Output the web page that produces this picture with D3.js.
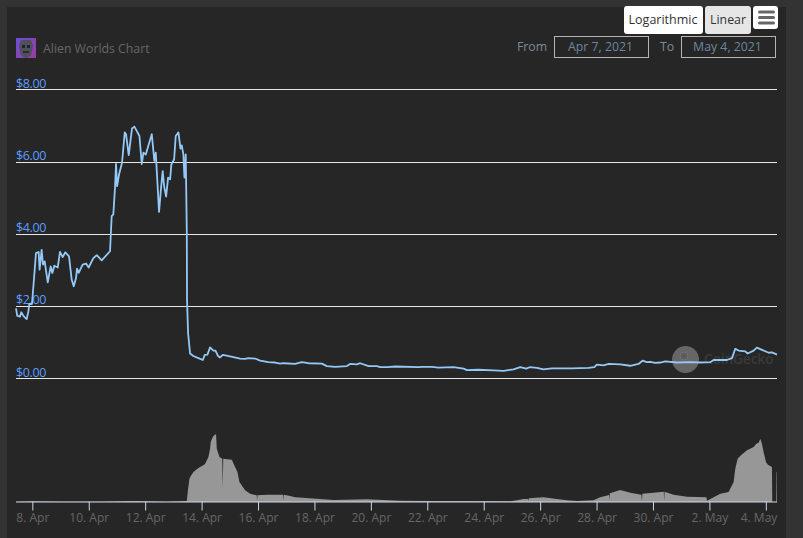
<!DOCTYPE html>
<html><head><meta charset="utf-8">
<script src="https://cdn.jsdelivr.net/npm/d3@7/dist/d3.min.js"></script>
<style>html,body{margin:0;padding:0;background:#333}svg{display:block}text{font-family:"Open Sans",sans-serif}</style>
</head><body><svg id="c" width="803" height="538"></svg>
<script>
const priceHours=[-13.9,-12.8,-10.5,-9.4,-7.1,-4.8,-3.4,-2.6,-0.3,0.9,3.1,5.4,6.2,7.9,9.1,10.5,13.1,15.6,17,18.7,21.6,23.5,25.8,28.1,31.2,33.5,35.2,37.2,38,39.4,42.8,45.7,47.9,51.9,54.8,59,66.1,67.5,68.9,70.4,71.2,72.1,73.8,76.3,78.6,79.7,82,84.8,86.8,88.8,91.1,93.1,94.5,96.5,98.7,101.6,103.8,105,107.8,109.5,110.9,112.1,113.8,115.5,117.2,118.3,120.6,122,124.3,126,127.1,128.5,129.4,130.5,130.8,131.4,131.6,132.5,134.2,137,141.3,145,146.7,149,151.2,154,155.8,158,159.7,162,168.2,176.7,181,183.8,189.5,193.8,200.9,206.5,210.8,213.6,223.6,229.2,234.9,246.3,250.5,257.6,267.6,270.4,276.1,278.9,286,293.1,295.9,301.6,308.7,328.6,331.4,339.9,345.6,358.3,366.9,369.7,379.6,392.4,400.9,409.4,415.1,420.2,423,429.3,434.9,442,459.1,473.2,478.1,480.3,486,490.3,500.1,508.6,515.7,519.1,522.8,525.7,529.9,534.2,538.4,548.4,559.7,568.2,576.7,579.6,590.9,595.2,598,600.8,606.5,608.5,613.6,616.4,620.7,626.4,629.2,633.5];
const prices=[1.94,1.73,1.71,1.83,1.71,1.64,1.85,2.06,2.06,2.55,3.47,3.5,3.01,3.56,3.15,3.24,2.66,3.1,2.92,3.12,3.07,3.5,3.36,3.49,3.38,2.73,2.55,2.78,3.04,2.92,3.15,3.18,3.07,3.33,3.41,3.27,3.52,4.49,4.54,5.32,5.94,5.32,5.65,5.97,6.81,6.76,6.18,6.92,6.97,6.85,6.71,5.93,6.25,6.2,6.44,6.76,6.02,6.25,4.61,5.28,5.74,5.32,5.03,5.56,5.51,5.93,6.06,6.71,6.81,6.36,6.45,6.2,5.56,6.2,5.5,4.03,2.18,1.25,0.69,0.62,0.56,0.51,0.65,0.66,0.86,0.77,0.77,0.62,0.58,0.65,0.61,0.55,0.54,0.56,0.55,0.49,0.45,0.44,0.41,0.42,0.4,0.45,0.42,0.41,0.34,0.32,0.34,0.4,0.39,0.42,0.34,0.34,0.31,0.31,0.33,0.31,0.32,0.32,0.3,0.31,0.27,0.23,0.24,0.22,0.21,0.25,0.31,0.27,0.31,0.29,0.25,0.28,0.28,0.29,0.31,0.38,0.36,0.4,0.39,0.35,0.4,0.49,0.45,0.46,0.43,0.44,0.47,0.44,0.45,0.44,0.45,0.51,0.51,0.56,0.82,0.77,0.75,0.69,0.77,0.85,0.79,0.71,0.72,0.66];
const volumeHours=[-13.9,0.9,29.2,57.6,86,114.3,131.4,132.5,133.1,133.6,134.8,137,141.3,142.7,146.1,147,149.8,151.2,151.8,152.3,154,156.3,156.9,159.2,161.6,162,162.4,169.7,172.5,174.5,176.2,181,185.3,190.9,191.2,191.5,199.4,213.3,213.6,213.9,219.3,223.6,242,256.2,284.5,312.9,341.3,369.6,406.5,412.2,417.9,421.8,422.1,422.4,434.9,446.2,454.7,463.3,477.4,483.1,490.7,491,491.3,500.1,508.7,518.2,518.6,519,537.2,537.5,537.8,545.5,556.9,573.5,573.9,585.3,592.3,596.6,598,600,602.8,608,613.6,615.9,617.9,619.3,620.7,622.1,624.1,625.8,629.2,629.5,632.9,633.2,633.5];
const volumes=[1,2,1,1,3,1,3,40,55,70,78,90,102,105,112,115,135,160,180,185,198,204,160,135,130,40,130,127,105,90,60,35,25,20,3,20,22,22,4,22,18,14,10,6,8,4,3,3,2,5,9,9,3,11,14,9,5,3,5,14,21,6,26,36,28,22,2,25,31,3,31,22,16,14,4,25,30,60,100,130,140,155,165,175,178,190,175,150,120,112,105,0,0,90,90];
const yTicks=[0,2,4,6,8];
const yTickLabels=["$0.00","$2.00","$4.00","$6.00","$8.00"];
const xTickDays=[0,2,4,6,8,10,12,14,16,18,20,22,24,26];
const xTickLabels=["8. Apr","10. Apr","12. Apr","14. Apr","16. Apr","18. Apr","20. Apr","22. Apr","24. Apr","26. Apr","28. Apr","30. Apr","2. May","4. May"];
const title="Alien Worlds Chart", fromDate="Apr 7, 2021", toDate="May 4, 2021";

const origin=Date.UTC(2021,3,8), HOUR=3600e3;
const toDate_=h=>new Date(origin+h*HOUR);
const svg=d3.select("#c");
const x=d3.scaleUtc().domain([toDate_(-13.9),toDate_(633.5)]).range([16,777]);
const y=d3.scaleLinear().domain([0,8]).range([378.4,89.4]);
const yVol=d3.scaleLinear().domain([0,204]).range([502,434]);

svg.append("rect").attr("x",7).attr("y",7).attr("width",779).attr("height",531).attr("fill","#262626");

// watermark
const wm=svg.append("g");
wm.append("circle").attr("cx",685.5).attr("cy",359.5).attr("r",13.5).attr("fill","#666");
wm.append("circle").attr("cx",684).attr("cy",356).attr("r",4).attr("fill","#5c5c5c").attr("stroke","#727272");
wm.append("text").attr("x",704).attr("y",364).attr("font-size",14).attr("letter-spacing",-0.3).attr("font-weight",600).attr("fill","#3a3a3a").text("CoinGecko");

// grid
svg.append("g").selectAll("line").data(yTicks).join("line")
 .attr("x1",16).attr("x2",777).attr("y1",d=>Math.round(y(d))+.5).attr("y2",d=>Math.round(y(d))+.5)
 .attr("stroke","#e6e6e6").attr("stroke-width",1);
svg.append("g").selectAll("text").data(yTicks).join("text")
 .attr("x",16).attr("y",d=>y(d)-1.8).attr("font-size",12.5).attr("letter-spacing",-0.4).attr("fill","#5b9dff")
 .text((d,i)=>yTickLabels[i]);

// volume
svg.append("path").datum(volumes.map((v,i)=>[volumeHours[i],v]))
 .attr("fill","#979797")
 .attr("d",d3.area().x(d=>x(toDate_(d[0]))).y0(yVol(0)).y1(d=>yVol(d[1])));

// x axis
const ax=svg.append("g").attr("transform","translate(0,501.5)")
 .call(d3.axisBottom(x).tickValues(xTickDays.map(d=>toDate_(d*24))).tickSize(9).tickPadding(3)
   .tickFormat((d,i)=>xTickLabels[i]));
ax.select(".domain").attr("stroke","#ccd6eb").attr("d","M16,0.5H777");
ax.selectAll(".tick line").attr("stroke","#ccd6eb");
ax.selectAll(".tick text").attr("fill","#666").attr("font-size",12).attr("font-family",'"Open Sans",sans-serif');
ax.selectAll(".tick:last-of-type text").attr("text-anchor","end").attr("x",11);

// price line
svg.append("path").datum(prices.map((v,i)=>[priceHours[i],v]))
 .attr("fill","none").attr("stroke","#94c9f7").attr("stroke-width",1.8).attr("stroke-linejoin","round")
 .attr("d",d3.line().x(d=>x(toDate_(d[0]))).y(d=>y(d[1])));

// logo
const defs=svg.append("defs");
const g=defs.append("linearGradient").attr("id","lg").attr("x1",0).attr("y1",0).attr("x2",1).attr("y2",1);
g.append("stop").attr("offset",0).attr("stop-color","#6a4fd8");
g.append("stop").attr("offset",1).attr("stop-color","#9a3c9c");
const logo=svg.append("g");
logo.append("rect").attr("x",16).attr("y",38).attr("width",20).attr("height",20).attr("fill","url(#lg)");
logo.append("path").attr("d","M21,40L31,40L33,46L31,55L27,58H25L21,55L19,46Z").attr("fill","#4f4f5e");
logo.append("rect").attr("x",22).attr("y",45).attr("width",3).attr("height",3).attr("fill","#23232b");
logo.append("rect").attr("x",27).attr("y",45).attr("width",3).attr("height",3).attr("fill","#23232b");
logo.append("rect").attr("x",23).attr("y",51).attr("width",6).attr("height",2).attr("fill","#2b2b33");
svg.append("text").attr("x",43).attr("y",52.5).attr("font-size",12.3).attr("fill","#666").text(title);

// buttons
function btn(bx,by,w,h,fill){svg.append("rect").attr("x",bx).attr("y",by).attr("width",w).attr("height",h).attr("rx",3).attr("fill",fill);}
btn(624,6,79,28,"#fff");btn(705,6,46,28,"#e6e6e6");btn(753,6,25,23,"#fff");
svg.append("text").attr("x",663).attr("y",24).attr("text-anchor","middle").attr("font-size",12.5).attr("fill","#333").text("Logarithmic");
svg.append("text").attr("x",728).attr("y",24).attr("text-anchor","middle").attr("font-size",12.3).attr("fill","#333").text("Linear");
[12,17.5,23].forEach(b=>svg.append("rect").attr("x",758).attr("y",b-1.5).attr("width",17).attr("height",3).attr("rx",1.5).attr("fill","#666"));

// range selector
svg.append("text").attr("x",517).attr("y",51).attr("font-size",12.3).attr("fill","#7d8a96").text("From");
svg.append("text").attr("x",660).attr("y",51).attr("font-size",12.3).attr("fill","#7d8a96").text("To");
[[554.5,fromDate],[681.5,toDate]].forEach(([bx,t])=>{
 svg.append("rect").attr("x",bx).attr("y",36.5).attr("width",94).attr("height",21).attr("fill","none").attr("stroke","#b5b5b5");
 svg.append("text").attr("x",bx+46).attr("y",51).attr("text-anchor","middle").attr("font-size",12.3).attr("fill","#6d869f").text(t);
});
</script></body></html>
